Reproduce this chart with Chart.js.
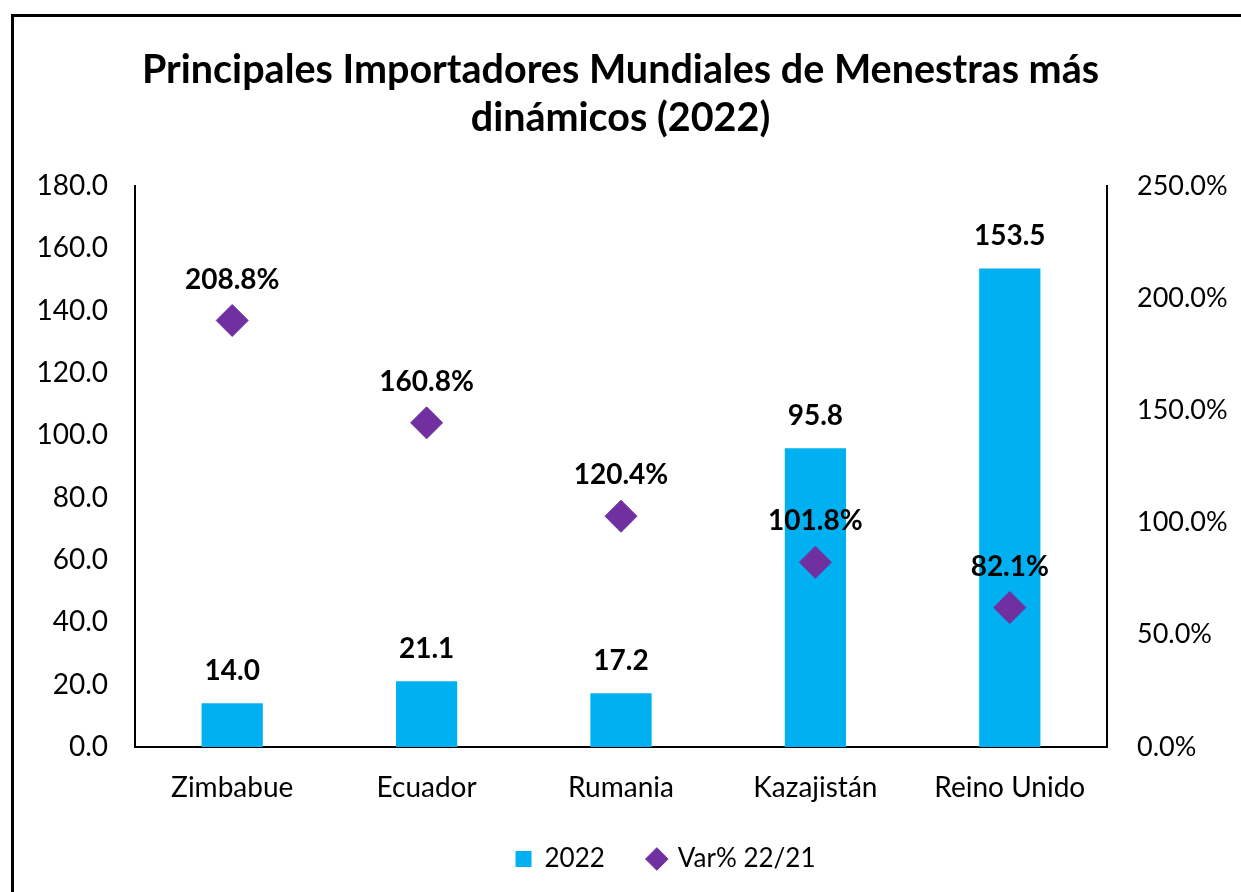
<!DOCTYPE html>
<html>
<head>
<meta charset="utf-8">
<script src="https://cdn.jsdelivr.net/npm/chart.js@4.4.1/dist/chart.umd.min.js"></script>
<style>
  html, body { margin: 0; padding: 0; background: #fff; overflow: hidden; }
  #wrap { position: relative; width: 1241px; height: 892px; }
  #frame {
    position: absolute; left: 11px; top: 14px;
    width: 1400px; height: 1000px;
    border: 3px solid #000; box-sizing: border-box;
  }
  canvas { position: absolute; left: 0; top: 0; }
</style>
</head>
<body>
<div id="wrap">
  <div id="frame"></div>
  <canvas id="chart" width="1241" height="892"></canvas>
</div>
<script>
// data
const countries = ['Zimbabue', 'Ecuador', 'Rumania', 'Kazajistán', 'Reino Unido'];
const imports2022 = [14.0, 21.1, 17.2, 95.8, 153.5];
// diamonds sit lower than their printed labels in the source chart
const varPlotted = [190.0, 144.4, 102.8, 82.3, 62.1];
const varLabels = ['208.8%', '160.8%', '120.4%', '101.8%', '82.1%'];

const titleLines = ['Principales Importadores Mundiales de Menestras más', 'dinámicos (2022)'];
const seriesNames = ['2022', 'Var% 22/21'];

const BLUE = '#00B0F0';
const PURPLE = '#7030A0';
const FONT = "Lato, 'Open Sans', sans-serif";

Chart.defaults.font.family = FONT;
Chart.defaults.color = '#000';

const valueLabels = {
  id: 'valueLabels',
  afterDatasetsDraw(chart) {
    const ctx = chart.ctx;
    ctx.save();
    ctx.font = 'bold 28px ' + FONT;
    ctx.fillStyle = '#000';
    ctx.textAlign = 'center';
    ctx.textBaseline = 'middle';
    chart.getDatasetMeta(0).data.forEach((el, i) => {
      ctx.fillText(imports2022[i].toFixed(1), el.x, el.y - 32);
    });
    chart.getDatasetMeta(1).data.forEach((el, i) => {
      ctx.fillText(varLabels[i], el.x, el.y - 41);
    });
    ctx.restore();
  }
};

// legend in the source sits a bit right of centre
const legendShift = {
  id: 'legendShift',
  afterLayout(chart) {
    chart.legend.left += 45;
    chart.legend.right += 45;
  }
};

new Chart(document.getElementById('chart'), {
  data: {
    labels: countries,
    datasets: [
      {
        type: 'bar',
        label: seriesNames[0],
        data: imports2022,
        backgroundColor: BLUE,
        yAxisID: 'y',
        barPercentage: 0.315,
        categoryPercentage: 1,
        pointStyle: 'rect',
        order: 1
      },
      {
        type: 'line',
        label: seriesNames[1],
        data: varPlotted,
        showLine: false,
        yAxisID: 'y1',
        pointStyle: 'rectRot',
        pointRadius: 16,
        pointHoverRadius: 16,
        pointBackgroundColor: PURPLE,
        pointBorderColor: PURPLE,
        backgroundColor: PURPLE,
        borderColor: PURPLE,
        order: 0
      }
    ]
  },
  options: {
    responsive: false,
    animation: false,
    devicePixelRatio: 1,
    layout: { padding: { left: 0, right: 0, top: 0, bottom: 10 } },
    plugins: {
      title: {
        display: true,
        text: titleLines,
        font: { size: 39.5, weight: 'bold' },
        lineHeight: 1.27,
        color: '#000',
        padding: { top: 47, bottom: 44 }
      },
      legend: {
        position: 'bottom',
        labels: {
          usePointStyle: true,
          boxWidth: 16,
          boxHeight: 16,
          padding: 44,
          font: { size: 26 },
          color: '#000',
          sort: (a, b) => a.datasetIndex - b.datasetIndex
        }
      },
      tooltip: { enabled: false }
    },
    scales: {
      x: {
        grid: { display: false, drawTicks: false },
        border: { display: true, color: '#000', width: 2 },
        ticks: { padding: 24, font: { size: 28 }, color: '#000', maxRotation: 0 },
        afterFit(s) { s.height = 55; }
      },
      y: {
        position: 'left',
        min: 0,
        max: 180,
        grid: { display: false, drawTicks: false },
        border: { display: true, color: '#000', width: 2 },
        ticks: {
          stepSize: 20,
          padding: 27,
          font: { size: 28 },
          color: '#000',
          callback: v => v.toFixed(1)
        },
        afterFit(s) { s.width = 135; }
      },
      y1: {
        position: 'right',
        min: 0,
        max: 250,
        grid: { display: false, drawTicks: false },
        border: { display: true, color: '#000', width: 2 },
        ticks: {
          stepSize: 50,
          padding: 30,
          font: { size: 27 },
          color: '#000',
          callback: v => v.toFixed(1) + '%'
        },
        afterFit(s) { s.width = 134; }
      }
    }
  },
  plugins: [valueLabels, legendShift]
});
</script>
</body>
</html>
